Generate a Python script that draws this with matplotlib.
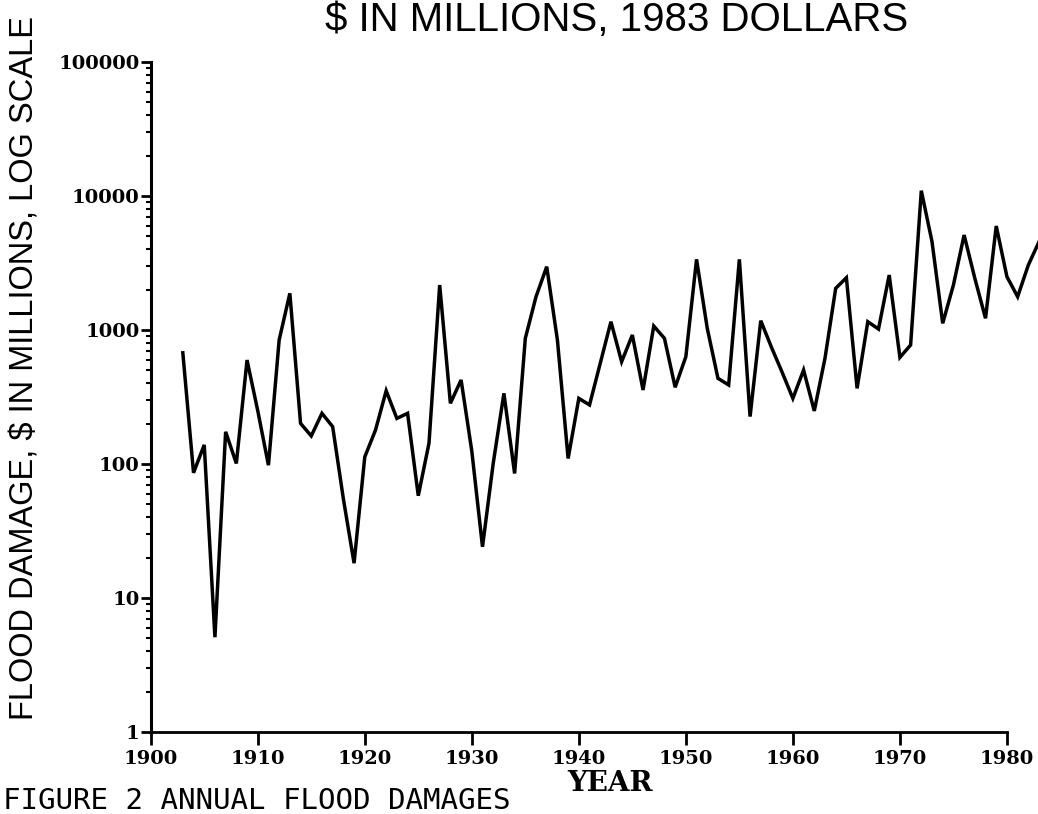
import numpy as np
import matplotlib
matplotlib.use("Agg")
import matplotlib.pyplot as plt
from matplotlib.ticker import FixedLocator, NullFormatter

# annual flood damages, $ millions (1983 dollars)
years = list(range(1903, 1984))
damage = [676, 86, 139, 5.1, 174, 101, 597, 250, 98, 842,
          1879, 201, 162, 239, 190, 55, 18.2, 113, 179, 352,
          219, 239, 58, 143, 2167, 284, 424, 125, 24.1, 101,
          337, 85, 867, 1773, 2970, 842, 110, 309, 276, 564,
          1154, 580, 918, 357, 1071, 867, 374, 632, 3370, 1030,
          436, 389, 3370, 226, 1174, 743, 483, 309, 503, 249,
          615, 2047, 2457, 367, 1154, 1017, 2572, 625, 773, 10960,
          4560, 1122, 2167, 5116, 2431, 1223, 5975, 2500, 1773, 3055,
          4560]

x_ticks = [1900, 1910, 1920, 1930, 1940, 1950, 1960, 1970, 1980]
y_ticks = [1, 10, 100, 1000, 10000, 100000]
y_ticklabels = ["1", "10", "100", "1000", "10000", "100000"]

fig = plt.figure(figsize=(10.38, 8.14), dpi=100)
ax = fig.add_axes([0.1452, 0.1007, 0.8558, 0.8231])

ax.plot(years, damage, color="black", lw=2.5, solid_joinstyle="miter")

ax.set_yscale("log")
ax.set_xlim(1900, 1983)
ax.set_ylim(1, 100000)

ax.spines["top"].set_visible(False)
ax.spines["right"].set_visible(False)
ax.spines["left"].set_linewidth(2.2)
ax.spines["bottom"].set_linewidth(2.0)
ax.spines["bottom"].set_bounds(1900, 1980)

ax.set_xticks(x_ticks)
ax.set_xticklabels([str(t) for t in x_ticks])
ax.yaxis.set_major_locator(FixedLocator(y_ticks))
ax.set_yticklabels(y_ticklabels)
minors = [m * 10 ** e for e in range(0, 5) for m in range(2, 10)]
ax.yaxis.set_minor_locator(FixedLocator(minors))
ax.yaxis.set_minor_formatter(NullFormatter())

for lab in ax.get_xticklabels() + ax.get_yticklabels():
    lab.set_fontfamily("DejaVu Serif")
    lab.set_fontweight("bold")
    lab.set_fontsize(14)

ax.tick_params(axis="x", which="major", direction="out", length=9, width=2, pad=4)
ax.tick_params(axis="y", which="major", direction="out", length=7, width=2, pad=1)
ax.tick_params(axis="y", which="minor", direction="out", length=3.5, width=1.5)

fig.text(0.024, 0.548, "FLOOD DAMAGE, $ IN MILLIONS, LOG SCALE",
         rotation=90, ha="center", va="center", fontsize=23.5, family="Liberation Sans")

fig.text(0.594, 0.962, "$ IN MILLIONS, 1983 DOLLARS", ha="center", va="baseline",
         fontsize=29, family="Liberation Sans")

fig.text(0.588, 0.028, "YEAR", ha="center", va="baseline", fontsize=20,
         family="DejaVu Serif", weight="bold")
fig.text(0.003, 0.006, "FIGURE 2 ANNUAL FLOOD DAMAGES", ha="left", va="baseline",
         fontsize=21, family="DejaVu Sans Mono")

fig.savefig("out.png", dpi=100)
